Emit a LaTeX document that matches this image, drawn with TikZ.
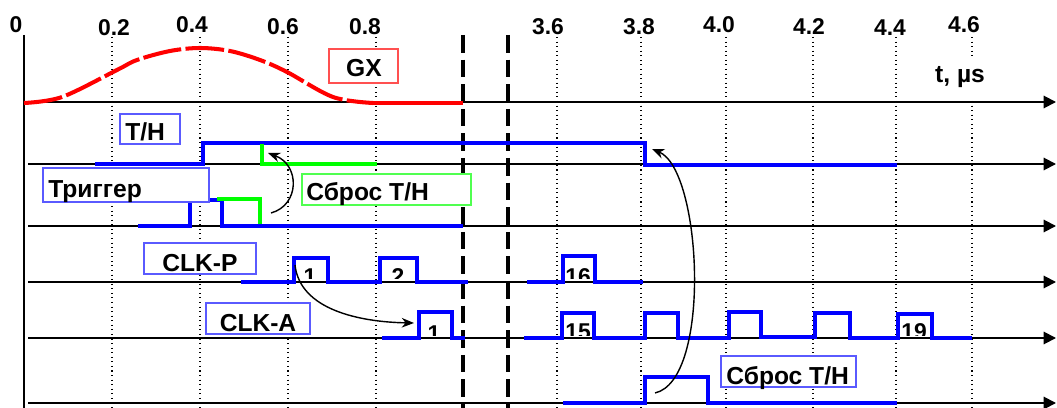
\documentclass[tikz,border=0pt]{standalone}
\usepackage{fontspec}
\setmainfont{Liberation Sans}
\usetikzlibrary{arrows.meta}

\definecolor{sigblue}{RGB}{0,0,255}
\definecolor{sigred}{RGB}{255,0,0}
\definecolor{siggreen}{RGB}{0,255,0}
\definecolor{tagblue}{RGB}{90,90,255}
\definecolor{tagred}{RGB}{255,80,80}
\definecolor{taggreen}{RGB}{80,255,80}

\begin{document}
\begin{tikzpicture}[%
    x=0.02cm, y=-0.02cm,
    >={Stealth[length=7pt,width=5.5pt]},
    every node/.style={font=\bfseries\fontsize{14}{16}\selectfont, inner sep=0pt},
    axis/.style={-{Triangle[length=7pt,width=7pt]}, line width=1.1pt},
    grid/.style={dotted, line width=0.6pt},
    cut/.style={line width=2.8pt, dash pattern=on 10pt off 4pt},
    sig/.style={sigblue, line width=2.3pt},
    rst/.style={siggreen, line width=2.3pt},
    tag/.style={draw=tagblue, fill=white, line width=0.6pt},
    tick/.style={font=\bfseries\fontsize{13}{15}\selectfont},
    num/.style={font=\bfseries\fontsize{13}{15}\selectfont, anchor=north}
]
\useasboundingbox (0,0) rectangle (1057,408);

% time grid
\foreach \x in {112,200,288,376,557,641,726,813,896,972}
    \draw[grid] (\x,37) -- (\x,408);

\foreach \x/\y/\t [count=\i] in {16/25/0, 114/28/0.2, 192/25/0.4, 283/27/0.6,
        365/27/0.8, 548/27/3.6, 639/27/3.8, 719/25/4.0, 809/27/4.2,
        890/28/4.4, 964/25/4.6}
    \node[tick] (tick\i) at (\x,\y) {\t};

% axes
\draw[line width=1.1pt] (24,35) -- (24,408);
\draw[axis] (24,102) -- (1056,102);
\foreach \y in {164,226,282,338,403}
    \draw[axis] (28,\y) -- (1056,\y);

\node[fill=white, minimum height=0.8cm, inner xsep=2pt] (tunit) at (960,77) {t, µs};

% break in time
\draw[cut] (463,35) -- (463,408);
\draw[cut] (508,35) -- (508,408);

% GX pulse
\draw[sigred, line width=2.3pt, dash pattern=on 22pt off 2.5pt]
    plot[smooth, tension=0.55] coordinates {(24,103) (62,97) (117,70) (137,60)
        (170,51) (200,48) (230,51) (260,60) (287,72) (333,97) (373,103)};
\draw[sigred, line width=2.3pt] (373,103) -- (463,103);

% T/H
\draw[sig] (95,164) -- (203,164) -- (203,143) -- (645,143) -- (645,165) -- (897,165);
\draw[rst] (262,144) -- (262,164) -- (377,164);

% trigger
\draw[sig] (138,226) -- (190,226) -- (190,200) -- (222,200) -- (222,226) -- (463,226);
\draw[rst] (217,199) -- (260,199) -- (260,224);

% CLK-P
\draw[sig] (241,282) -- (294,282) -- (294,258) -- (328,258) -- (328,282)
    -- (380,282) -- (380,258) -- (417,258) -- (417,282) -- (468,282);
\draw[sig] (527,282) -- (563,282) -- (563,256) -- (595,256) -- (595,282) -- (643,282);

% CLK-A
\draw[sig] (382,338) -- (419,338) -- (419,312) -- (452,312) -- (452,338) -- (465,338);
\draw[sig] (524,338) -- (562,338) -- (562,313) -- (594,313) -- (594,338)
    -- (645,338) -- (645,313) -- (678,313) -- (678,338)
    -- (729,338) -- (729,312) -- (761,312) -- (761,337)
    -- (815,337) -- (815,313) -- (850,313) -- (850,338)
    -- (898,338) -- (898,314) -- (932,314) -- (932,338) -- (972,338);

% reset T/H
\draw[sig] (563,403) -- (645,403) -- (645,377) -- (708,377) -- (708,403) -- (897,403);

% pulse numbers, cut by the line
\begin{scope}
    \clip (0,0) rectangle (1057,279);
    \node[num] (p1) at (310,268) {1};
    \node[num] (p2) at (398,268) {2};
    \node[num] (p16) at (578,268) {16};
\end{scope}
\begin{scope}
    \clip (0,290) rectangle (1057,335);
    \node[num] (a1) at (434,325) {1};
    \node[num] (a15) at (578,323) {15};
    \node[num] (a19) at (914,323) {19};
\end{scope}

% labels
\node[tag, draw=tagred, minimum width=1.38cm, minimum height=0.68cm] (gxbox) at (363.5,66) {};
\node[anchor=base] (gx) at (364,77) {GX};

\node[tag, minimum width=1.2cm, minimum height=0.6cm] (thbox) at (150,129) {};
\node[anchor=base west] (th) at (125,141) {Т/Н};

\node[tag, minimum width=3.32cm, minimum height=0.68cm] (trigbox) at (126,185) {};
\node[anchor=base west] (trig) at (48,198) {Триггер};

\node[tag, draw=taggreen, minimum width=3.38cm, minimum height=0.62cm] (rstbox) at (386.5,189.5) {};
\node[anchor=base west] (rst) at (306,201) {Сброс Т/Н};

\node[tag, minimum width=2.24cm, minimum height=0.62cm] (clkpbox) at (200,258.5) {};
\node[anchor=base] (clkp) at (200,272) {CLK-P};

\node[tag, minimum width=2.08cm, minimum height=0.62cm] (clkabox) at (258,318.5) {};
\node[anchor=base] (clka) at (258,331) {CLK-A};

\node[tag, minimum width=2.7cm, minimum height=0.62cm] (rstbox2) at (788.5,371.5) {};
\node[anchor=base west] (rst2) at (726,384) {Сброс Т/Н};

% cause -> effect
\coordinate (trgrst) at (271,213);
\coordinate (thedge) at (268,153);
\coordinate (pfirst) at (295,265);
\coordinate (afirst) at (414,323);
\coordinate (rstup) at (655,393);
\coordinate (thfall) at (652,149);

\draw[->, line width=0.8pt] (trgrst) .. controls (300,205) and (300,165) .. (thedge);
\draw[->, line width=0.8pt] (pfirst) .. controls (300,310) and (360,322) .. (afirst);
\draw[->, line width=0.8pt] (rstup) .. controls (712,380) and (702,170) .. (thfall);

\end{tikzpicture}
\end{document}
